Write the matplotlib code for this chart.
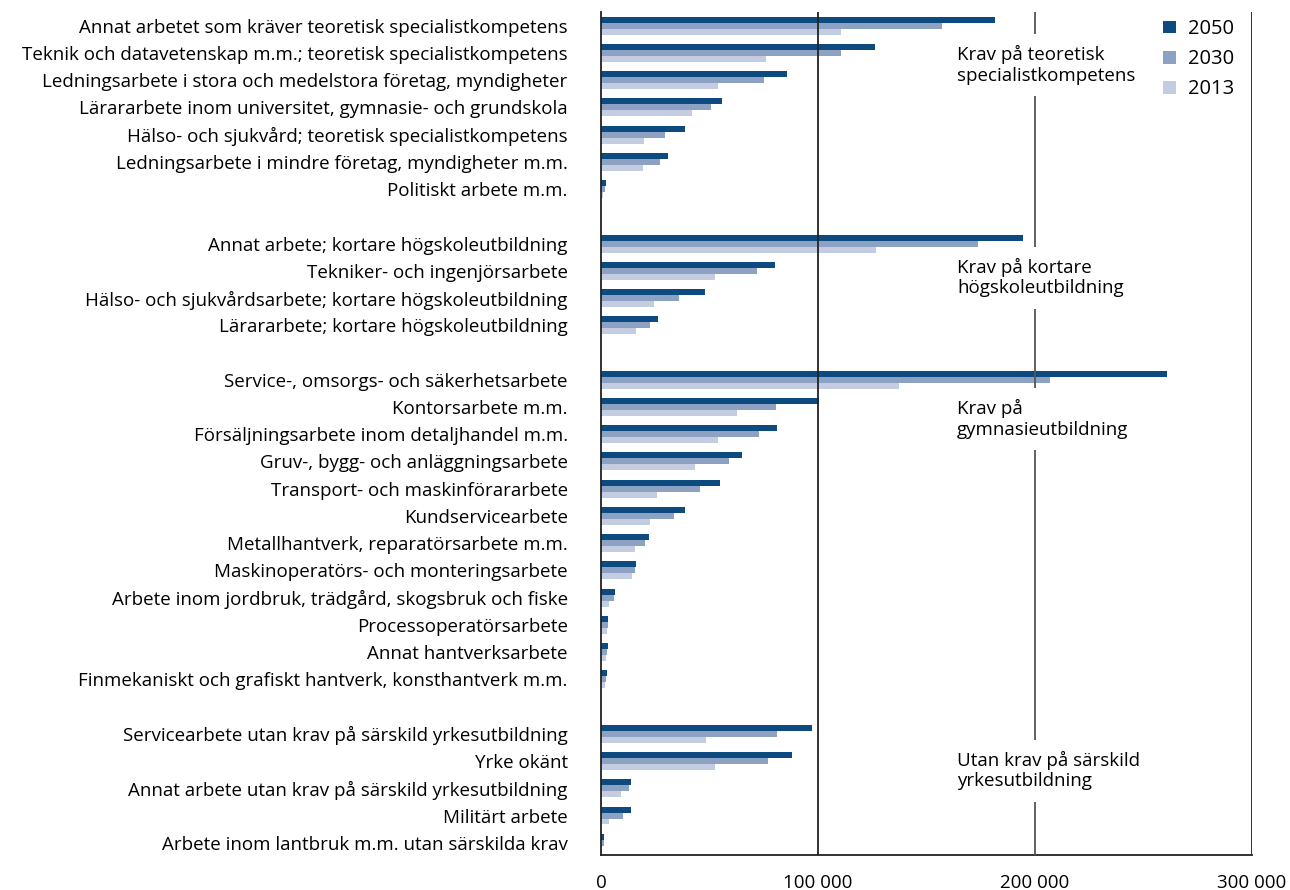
import matplotlib
matplotlib.use("Agg")
import matplotlib.pyplot as plt
from matplotlib.patches import Patch

plt.rcParams['font.family'] = ['Open Sans', 'DejaVu Sans']

# yrkesgrupper per utbildningskrav
grp_teoretisk = ["Annat arbetet som kräver teoretisk specialistkompetens",
                 "Teknik och datavetenskap m.m.; teoretisk specialistkompetens",
                 "Ledningsarbete i stora och medelstora företag, myndigheter",
                 "Lärararbete inom universitet, gymnasie- och grundskola",
                 "Hälso- och sjukvård; teoretisk specialistkompetens",
                 "Ledningsarbete i mindre företag, myndigheter m.m.",
                 "Politiskt arbete m.m."]
grp_kortare = ["Annat arbete; kortare högskoleutbildning",
               "Tekniker- och ingenjörsarbete",
               "Hälso- och sjukvårdsarbete; kortare högskoleutbildning",
               "Lärararbete; kortare högskoleutbildning"]
grp_gymnasie = ["Service-, omsorgs- och säkerhetsarbete",
                "Kontorsarbete m.m.",
                "Försäljningsarbete inom detaljhandel m.m.",
                "Gruv-, bygg- och anläggningsarbete",
                "Transport- och maskinförararbete",
                "Kundservicearbete",
                "Metallhantverk, reparatörsarbete m.m.",
                "Maskinoperatörs- och monteringsarbete",
                "Arbete inom jordbruk, trädgård, skogsbruk och fiske",
                "Processoperatörsarbete",
                "Annat hantverksarbete",
                "Finmekaniskt och grafiskt hantverk, konsthantverk m.m."]
grp_utan = ["Servicearbete utan krav på särskild yrkesutbildning",
            "Yrke okänt",
            "Annat arbete utan krav på särskild yrkesutbildning",
            "Militärt arbete",
            "Arbete inom lantbruk m.m. utan särskilda krav"]

group_titles = ["Krav på teoretisk\nspecialistkompetens",
                "Krav på kortare\nhögskoleutbildning",
                "Krav på\ngymnasieutbildning",
                "Utan krav på särskild\nyrkesutbildning"]

v2050 = [181600, 126300, 85600, 55600, 38700, 30700, 2300,
         194700, 80200, 47900, 26100,
         260700, 100600, 81300, 65000, 55000, 38600, 22000, 16100, 6500, 3100, 3100, 2600,
         97300, 88200, 13800, 13800, 1500]
v2030 = [157200, 110600, 75300, 50600, 29400, 27200, 2000,
         173600, 71900, 36000, 22600,
         207000, 80800, 72800, 59200, 45400, 33800, 20300, 15800, 5800, 3100, 2800, 2200,
         81300, 77100, 12800, 10100, 1200]
v2013 = [110600, 76000, 54100, 41800, 19800, 19200, 1100,
         126600, 52400, 24300, 16300,
         137300, 62700, 53900, 43100, 25600, 22600, 15500, 14300, 3700, 2600, 2200, 1700,
         48300, 52700, 9400, 3700, 300]

years = ["2050", "2030", "2013"]
colors = ["#0d4a7f", "#8da2c3", "#c4cce1"]

groups = [grp_teoretisk, grp_kortare, grp_gymnasie, grp_utan]
labels, ypos = [], []
row = 0
for g in groups:
    for name in g:
        labels.append(name)
        ypos.append(row)
        row += 1
    row += 1  # tom rad mellan grupperna

fig = plt.figure(figsize=(12.9, 8.9), dpi=100)
ax = fig.add_axes([601 / 1290, 1 - 855 / 890, 651 / 1290, 843 / 890])

h = 0.22
for i, (vals, c) in enumerate(zip([v2050, v2030, v2013], colors)):
    ax.barh([y + (i - 1) * h for y in ypos], vals, height=h, color=c, zorder=2)

for x, col in [(100000, "#222222"), (200000, "#555555"), (300000, "#222222")]:
    ax.axvline(x, color=col, lw=1.3, zorder=3)

# gruppnamn i diagrammet
title_pos = [1.45, 9.25, 14.45, 27.35]
for t, y in zip(group_titles, title_pos):
    ax.text(164000, y, t, fontsize=13.5, va="center", ha="left", zorder=4,
            linespacing=1.2,
            bbox=dict(facecolor="white", edgecolor="none", pad=8))

ax.set_xlim(0, 300000)
ax.set_ylim(ypos[-1] + 0.45, -0.5)
ax.set_yticks(ypos)
ax.set_yticklabels(labels, fontsize=13.5)
ax.set_xticks([0, 100000, 200000, 300000])
ax.set_xticklabels(["0", "100 000", "200 000", "300 000"], fontsize=13.5)
ax.tick_params(axis="y", length=0, pad=24)
ax.tick_params(axis="x", length=0, pad=14)
for s in ["top", "right"]:
    ax.spines[s].set_visible(False)
for s in ["left", "bottom"]:
    ax.spines[s].set_color("#222222")
    ax.spines[s].set_linewidth(1.3)

handles = [Patch(facecolor=c, label=y) for c, y in zip(colors, years)]
ax.legend(handles=handles, loc="upper right", bbox_to_anchor=(1.0, 1.013),
          frameon=False, fontsize=14.5, handlelength=0.6, handleheight=0.6,
          handletextpad=0.6, labelspacing=0.5)

fig.savefig("out.png", dpi=100)
